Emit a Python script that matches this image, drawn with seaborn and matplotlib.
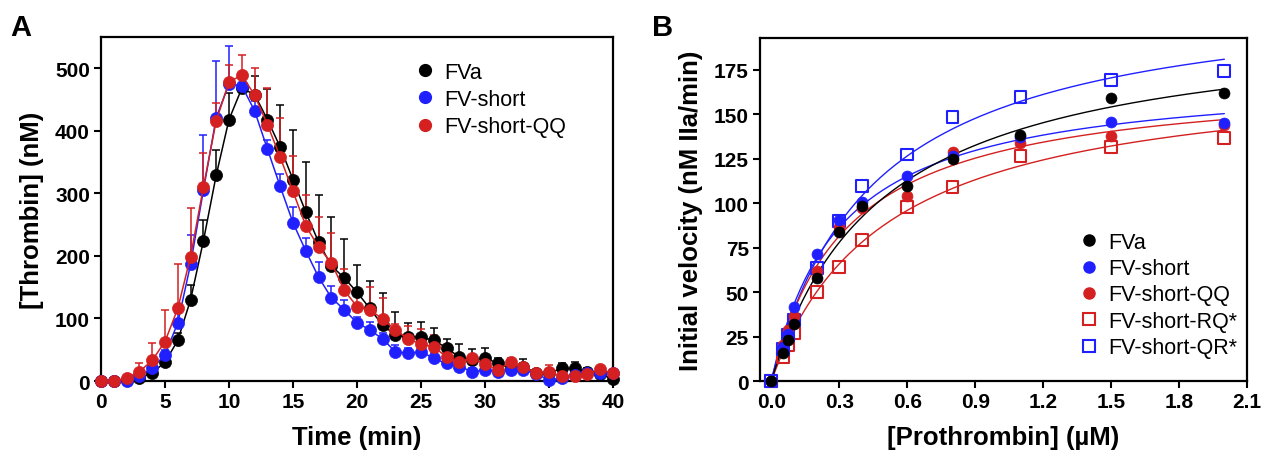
import numpy as np
import matplotlib
matplotlib.use('Agg')
import matplotlib.pyplot as plt
from matplotlib.lines import Line2D
import seaborn as sns

# Panel A: thrombin generation
time = list(range(0, 41))
fva = [0, 0, 1, 4, 13, 30, 65, 130, 224, 329, 418, 468, 458, 418, 374, 322, 270, 222, 184, 165, 142,
       116, 89, 74, 70, 70, 65, 53, 38, 34, 36, 29, 19, 23, 13, 13, 20, 20, 15, 11, 3]
fva_err = [0, 0, 0, 2, 4, 6, 12, 24, 34, 41, 43, 15, 30, 49, 68, 80, 80, 76, 78, 62, 43,
           44, 52, 37, 22, 25, 20, 14, 21, 17, 17, 8, 6, 12, 5, 6, 8, 10, 6, 4, 2]
fvs = [0, 0, 0, 8, 20, 42, 93, 187, 305, 421, 475, 472, 432, 371, 311, 253, 208, 166, 133, 114, 93,
       82, 67, 47, 44, 47, 36, 28, 23, 15, 18, 15, 18, 18, 11, 2, 4, 10, 12, 12, 12]
fvs_err = [0, 0, 0, 3, 6, 8, 15, 47, 88, 91, 60, 20, 15, 15, 20, 25, 20, 25, 19, 15, 10,
           12, 10, 10, 8, 8, 8, 6, 5, 5, 5, 5, 4, 4, 4, 4, 4, 4, 4, 4, 4]
fvqq = [0, 0, 5, 15, 33, 63, 116, 199, 310, 416, 478, 489, 457, 410, 358, 303, 248, 214, 189, 145, 119,
        114, 99, 82, 67, 59, 55, 38, 30, 36, 27, 18, 30, 22, 13, 14, 8, 8, 11, 19, 12]
fvqq_err = [0, 0, 0, 14, 28, 50, 71, 77, 55, 29, 28, 33, 44, 59, 63, 56, 50, 48, 47, 34, 20,
            37, 34, 9, 21, 24, 19, 17, 6, 4, 5, 5, 6, 6, 5, 12, 4, 4, 4, 4, 3]

# Panel B: initial velocity vs prothrombin
conc = [0, 0.05, 0.075, 0.1, 0.2, 0.3, 0.4, 0.6, 0.8, 1.1, 1.5, 2.0]
v_fva = [0, 15.6, 23.1, 32.1, 57.8, 84.0, 98.5, 109.7, 124.7, 138.4, 159.4, 162.2]
v_fvs = [0, 19.3, 26.4, 41.8, 71.5, 90.6, 100.9, 115.5, 126.6, 137.1, 145.9, 145.0]
v_qq = [0, 20.5, 28.7, 36.6, 62.1, 86.8, 97.2, 104.1, 129.0, 134.1, 137.9, 144.0]
v_rq = [0, 13.3, 20.3, 26.8, 49.9, 64.3, 79.3, 98.1, 109.0, 126.6, 131.5, 136.6]
v_qr = [0, 18.0, 26.0, 34.3, 63.4, 90.2, 109.9, 127.5, 148.7, 160.0, 169.4, 174.4]

BLACK = '#000000'
BLUE = '#2020ff'
RED = '#d42020'


def fit_mm(x, y):
    # Michaelis-Menten fit: grid over Km, least squares for Vmax
    x = np.asarray(x, float)
    y = np.asarray(y, float)
    best = None
    for km in np.linspace(0.01, 3, 3000):
        f = x / (km + x)
        vmax = (f * y).sum() / (f * f).sum()
        sse = ((y - vmax * f) ** 2).sum()
        if best is None or sse < best[0]:
            best = (sse, vmax, km)
    return best[1], best[2]


sns.set_style('ticks')
plt.rcParams['font.family'] = ['Liberation Sans', 'DejaVu Sans']
plt.rcParams['font.weight'] = 'bold'
for key in ('text.color', 'axes.labelcolor', 'xtick.color', 'ytick.color', 'axes.edgecolor'):
    plt.rcParams[key] = 'black'

fig = plt.figure(figsize=(12.64, 4.56), dpi=100)
axA = fig.add_axes([101 / 1264, 1 - 382 / 456, 512 / 1264, 344 / 456])
axB = fig.add_axes([760 / 1264, 1 - 382 / 456, 487 / 1264, 343 / 456])

# --- Panel A ---
seriesA = [('FVa', fva, fva_err, BLACK), ('FV-short', fvs, fvs_err, BLUE), ('FV-short-QQ', fvqq, fvqq_err, RED)]
for i, (name, vals, err, c) in enumerate(seriesA):
    axA.errorbar(time, vals, yerr=[np.zeros(len(err)), err], fmt='none', ecolor=c,
                 elinewidth=1.1, capsize=3, capthick=1.1, zorder=2 + i)
    sns.lineplot(x=time, y=vals, ax=axA, color=c, marker='o', markersize=8.7,
                 markeredgecolor=c, markeredgewidth=0.5, linewidth=1.1, clip_on=False, zorder=5 + i)

axA.set_xlim(0, 40)
axA.set_ylim(0, 550)
axA.set_xticks(range(0, 41, 5))
axA.set_yticks(range(0, 501, 100))
axA.set_xlabel('Time (min)', fontsize=18.5, fontweight='bold', labelpad=10)
axA.set_ylabel('[Thrombin] (nM)', fontsize=18.5, fontweight='bold', labelpad=8)

handlesA = [Line2D([], [], linestyle='none', marker='o', markersize=8.5, color=c, markeredgecolor=c)
            for _, _, _, c in seriesA]
axA.legend(handlesA, [s[0] for s in seriesA], loc='upper left', bbox_to_anchor=(0.57, 0.985),
           frameon=False, prop={'size': 15.5, 'weight': 'normal'}, handletextpad=0.3,
           labelspacing=0.3, handlelength=1.2)

# --- Panel B ---
xs = np.linspace(0, 2.0, 200)
seriesB = [('FV-short-RQ*', v_rq, RED, 's', False), ('FV-short-QR*', v_qr, BLUE, 's', False),
           ('FV-short-QQ', v_qq, RED, 'o', True), ('FV-short', v_fvs, BLUE, 'o', True),
           ('FVa', v_fva, BLACK, 'o', True)]
for i, (name, vals, c, m, filled) in enumerate(seriesB):
    vmax, km = fit_mm(conc, vals)
    sns.lineplot(x=xs, y=vmax * xs / (km + xs), ax=axB, color=c, linewidth=1.0, zorder=2)
    if filled:
        sns.scatterplot(x=conc, y=vals, ax=axB, color=c, marker='o', s=62, edgecolor=c,
                        linewidth=0.5, clip_on=False, zorder=4 + i)
    else:
        axB.scatter(conc, vals, marker='s', s=72, facecolors='none', edgecolors=c,
                    linewidths=1.5, clip_on=False, zorder=4 + i)

axB.set_xlim(-0.05, 2.1)
axB.set_ylim(0, 193)
axB.set_xticks(np.arange(0, 2.11, 0.3))
axB.set_xticklabels([f'{v:.1f}' for v in np.arange(0, 2.11, 0.3)])
axB.set_yticks(range(0, 176, 25))
axB.set_xlabel('[Prothrombin] (\u00b5M)', fontsize=18.5, fontweight='bold', labelpad=10)
axB.set_ylabel('Initial velocity (nM IIa/min)', fontsize=18.5, fontweight='bold', labelpad=8)

order = ['FVa', 'FV-short', 'FV-short-QQ', 'FV-short-RQ*', 'FV-short-QR*']
lookup = {s[0]: s for s in seriesB}
handlesB = []
for name in order:
    _, _, c, m, filled = lookup[name]
    if filled:
        handlesB.append(Line2D([], [], linestyle='none', marker='o', markersize=8, color=c, markeredgecolor=c))
    else:
        handlesB.append(Line2D([], [], linestyle='none', marker='s', markersize=8.5, markerfacecolor='none',
                               markeredgecolor=c, markeredgewidth=1.5))
axB.legend(handlesB, order, loc='lower left', bbox_to_anchor=(0.61, 0.01),
           frameon=False, prop={'size': 15.5, 'weight': 'normal'}, handletextpad=0.3,
           labelspacing=0.25, handlelength=1.2)

for ax in (axA, axB):
    for sp in ax.spines.values():
        sp.set_linewidth(1.6)
        sp.set_visible(True)
    ax.tick_params(axis='both', width=1.5, length=5, labelsize=15, pad=3)
    for lab in ax.get_xticklabels() + ax.get_yticklabels():
        lab.set_fontweight('bold')

fig.text(10 / 1264, 1 - 36 / 456, 'A', fontsize=21, fontweight='bold')
fig.text(652 / 1264, 1 - 36 / 456, 'B', fontsize=21, fontweight='bold')

fig.savefig('out.png', dpi=100)
